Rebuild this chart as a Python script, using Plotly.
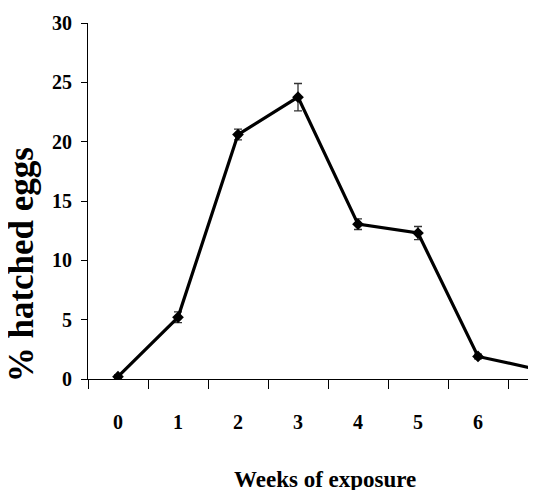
import plotly.graph_objects as go

weeks = [0, 1, 2, 3, 4, 5, 6, 7]
week_labels = ["0", "1", "2", "3", "4", "5", "6", "7"]
hatched = [0.2, 5.2, 20.6, 23.75, 13.05, 12.3, 1.9, 0.8]
errors = [0.15, 0.45, 0.45, 1.15, 0.45, 0.55, 0.2, 0.15]

FONT = "Liberation Serif, Times New Roman, serif"

fig = go.Figure()
fig.add_trace(go.Scatter(
    x=weeks, y=hatched,
    mode="lines+markers",
    line=dict(color="black", width=3.2),
    marker=dict(symbol="diamond", size=9, color="black"),
    error_y=dict(type="data", array=errors, visible=True,
                 color="#333333", thickness=1.3, width=4),
    showlegend=False,
))

fig.update_layout(
    width=528, height=482,
    margin=dict(l=80, r=0, t=15, b=111),
    paper_bgcolor="white", plot_bgcolor="white",
    font=dict(family=FONT, color="black"),
    xaxis=dict(
        range=[-0.5, -0.5 + 448 / 60],
        tickmode="array", tickvals=weeks[:7], ticktext=week_labels[:7],
        ticks="", showgrid=False, zeroline=False,
        showline=True, linecolor="black", linewidth=1,
        tickfont=dict(family=FONT, size=20, color="black", weight="bold"),
        ticklabelstandoff=25,
        minor=dict(ticks="outside", ticklen=9, tickcolor="black",
                   tickwidth=1, tick0=0.5, dtick=1, showgrid=False),
    ),
    yaxis=dict(
        range=[0, 30], tickmode="linear", tick0=0, dtick=5,
        ticks="outside", ticklen=6, tickcolor="black", tickwidth=1,
        showgrid=False, zeroline=False,
        showline=True, linecolor="black", linewidth=1,
        tickfont=dict(family=FONT, size=20, color="black", weight="bold"),
        ticklabelstandoff=5,
    ),
    annotations=[
        dict(text="<b>% hatched eggs</b>", xref="paper", yref="paper",
             x=-0.149, y=0.32, textangle=-90, showarrow=False,
             xanchor="center", yanchor="middle",
             font=dict(family=FONT, size=35, color="black")),
        dict(text="<b>Weeks of exposure</b>", xref="paper", yref="paper",
             x=0.529, y=-0.241, showarrow=False,
             xanchor="center", yanchor="top",
             font=dict(family=FONT, size=23, color="black")),
        dict(text="<b>" + week_labels[7] + "</b>", xref="paper", yref="paper",
             x=1.0, xshift=2, y=-0.125, showarrow=False,
             xanchor="center", yanchor="middle",
             font=dict(family=FONT, size=20, color="black")),
    ],
)

fig.write_html("out.html")
